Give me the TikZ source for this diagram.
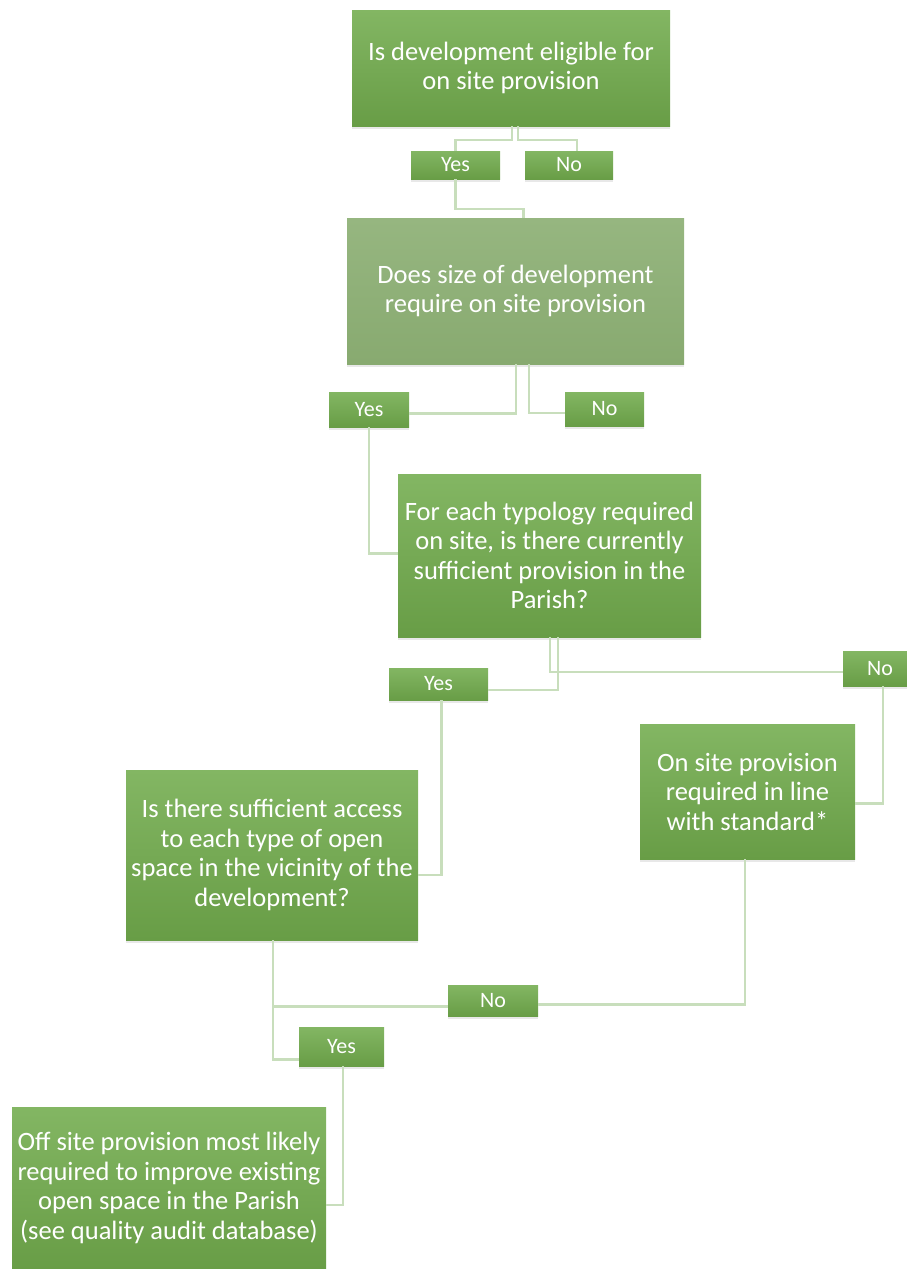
\documentclass[tikz,border=0pt]{standalone}
\usepackage{fontspec}
\setmainfont{Carlito}
\usetikzlibrary{positioning,shadows}
\definecolor{boxtop}{RGB}{131,182,99}
\definecolor{boxbot}{RGB}{104,157,70}
\definecolor{paletop}{RGB}{150,182,128}
\definecolor{palebot}{RGB}{136,170,112}
\definecolor{linkgreen}{RGB}{200,222,188}
\tikzset{
block/.style = {rectangle, top color=boxtop, bottom color=boxbot, text=white, align=center, inner sep=0pt, font=\fontsize{26.5}{29.5}\selectfont, drop shadow={opacity=0.18, shadow xshift=0pt, shadow yshift=-2.5pt}},
paleblock/.style = {block, top color=paletop, bottom color=palebot},
answer/.style = {block, font=\fontsize{22}{25}\selectfont},
link/.style = {draw=linkgreen, line width=2.5pt}
}
\begin{document}
\begin{tikzpicture}[x=1pt, y=-1pt]
    \useasboundingbox (0,0) rectangle (907,1269);
    % questions
    \node[block, minimum width=318pt, minimum height=116pt] (q1) at (511,68) {Is development eligible for\\on site provision};
    \node[paleblock, minimum width=337pt, minimum height=146pt] (q2) at (515.5,291) {Does size of development\\require on site provision};
    \node[block, minimum width=303pt, minimum height=163pt] (q3) at (549.5,555.5) {For each typology required\\on site, is there currently\\sufficient provision in the\\Parish?};
    \node[block, minimum width=215pt, minimum height=135pt] (q4) at (747.5,791.5) {On site provision\\required in line\\with standard*};
    \node[block, minimum width=292pt, minimum height=170pt] (q5) at (272,855) {Is there sufficient access\\to each type of open\\space in the vicinity of the\\development?};
    \node[block, minimum width=314pt, minimum height=162pt] (q6) at (169,1188) {Off site provision most likely\\required to improve existing\\open space in the Parish\\(see quality audit database)};
    % answers
    \node[answer, minimum width=89pt, minimum height=28pt] (y1) at (455.5,165) {Yes};
    \node[answer, minimum width=88pt, minimum height=28pt] (n1) at (569,165) {No};
    \node[answer, minimum width=80pt, minimum height=35pt] (y2) at (369,409.5) {Yes};
    \node[answer, minimum width=79pt, minimum height=34pt] (n2) at (604.5,409) {No};
    \node[answer, minimum width=99pt, minimum height=32pt] (y3) at (438.5,684) {Yes};
    \node[answer, minimum width=74pt, minimum height=35pt] (n3) at (880,668.5) {No};
    \node[answer, minimum width=90pt, minimum height=31pt] (n4) at (493,1000.5) {No};
    \node[answer, minimum width=85pt, minimum height=39pt] (y4) at (341.5,1046.5) {Yes};
    % connectors
    \draw[link] ([xshift=1pt]q1.south) -- ++(0,14) -| (y1.north);
    \draw[link] ([xshift=7pt]q1.south) -- ++(0,14) -| ([xshift=8pt]n1.north);
    \draw[link] (y1.south) -- ++(0,30) -| ([xshift=8pt]q2.north);
    \draw[link] ([xshift=0.5pt]q2.south) |- ([yshift=-4pt]y2.east);
    \draw[link] ([xshift=13.5pt]q2.south) |- ([yshift=-4pt]n2.west);
    \draw[link] (y2.south) |- ([yshift=2pt]q3.west);
    \draw[link] ([xshift=0.5pt]q3.south) |- ([yshift=-3.5pt]n3.west);
    \draw[link] ([xshift=8.5pt]q3.south) |- ([yshift=-6pt]y3.east);
    \draw[link] ([xshift=3pt]n3.south) |- ([yshift=-12pt]q4.east);
    \draw[link] ([xshift=3pt]y3.south) |- ([yshift=-20pt]q5.east);
    \draw[link] ([xshift=-2.5pt]q4.south) |- ([yshift=-4pt]n4.east);
    \draw[link] ([xshift=1pt]q5.south) |- ([yshift=-6pt]n4.west);
    \draw[link] ([xshift=1pt]q5.south) |- ([yshift=-13pt]y4.west);
    \draw[link] ([xshift=1.5pt]y4.south) |- ([yshift=-17pt]q6.east);
\end{tikzpicture}
\end{document}
